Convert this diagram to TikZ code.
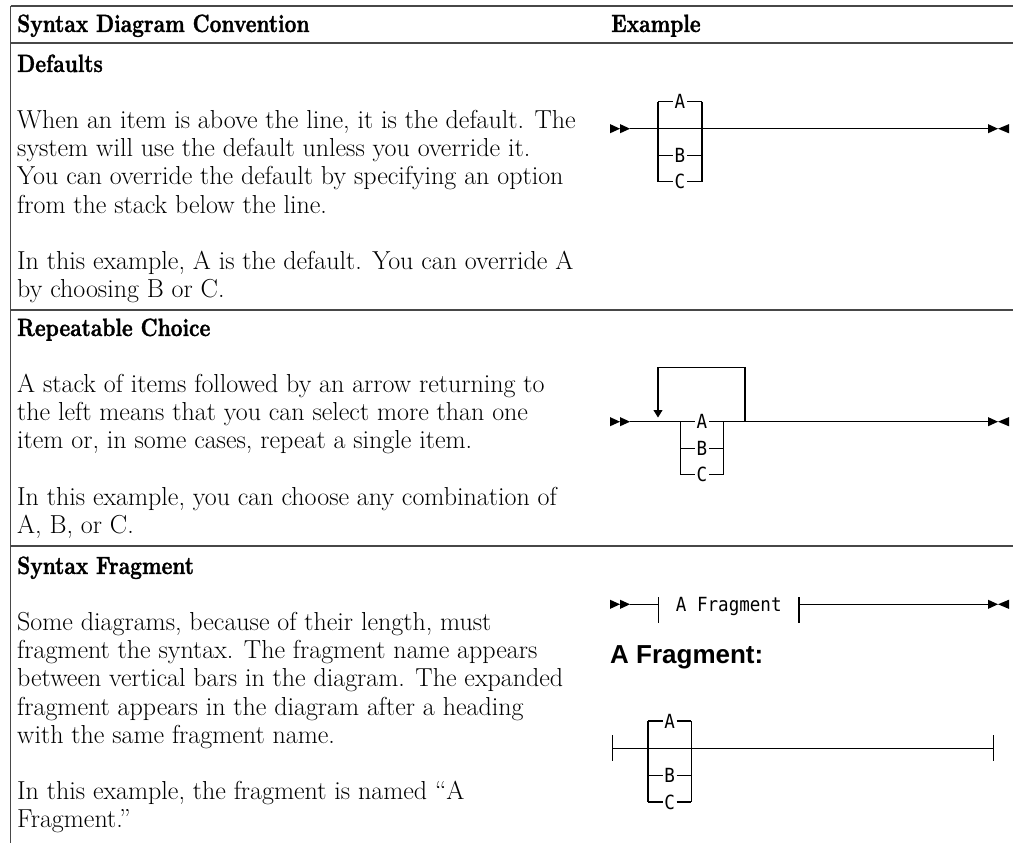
\documentclass[tikz,border=0pt]{standalone}
\usepackage{fontspec}
\usetikzlibrary{arrows.meta}
\newfontfamily\rrfont{DejaVu Sans Mono}[FakeStretch=0.9]
\newfontfamily\hdfont{Liberation Sans}
\newfontfamily\headfont{lmroman10-bold.otf}[FakeStretch=0.82,FakeBold=1.2]
\tikzset{
  pics/dblstart/.style={code={
    \fill (-20,-4.6) -- (-10,0) -- (-20,4.6) -- cycle;
    \fill (-10,-4.6) -- (0,0) -- (-10,4.6) -- cycle;}},
  pics/endpair/.style={code={
    \fill (0,-4.6) -- (10,0) -- (0,4.6) -- cycle;
    \fill (21,-4.6) -- (10,0) -- (21,4.6) -- cycle;}},
}
\begin{document}
\begin{tikzpicture}[x=1pt,y=-1pt,
  tbl/.style={draw=black!72,line width=1.3pt},
  rail/.style={draw=black,line width=1.05pt},
  body/.style={anchor=base west,inner sep=0pt,font=\fontsize{26}{29}\selectfont},
  head/.style={anchor=base west,inner sep=0pt,font=\headfont\fontsize{25}{28}\selectfont},
  lbl/.style={font=\rrfont\fontsize{19.5}{22}\selectfont,inner sep=1.6pt},
]
\useasboundingbox (0,0) rectangle (1013,843);

% ---------- table rules ----------
\draw[tbl] (10.5,6) -- (1013,6);
\draw[tbl] (10.5,43) -- (1013,43);
\draw[tbl] (10.5,310) -- (1013,310);
\draw[tbl] (10.5,546) -- (1013,546);
\draw[tbl] (10.5,6) -- (10.5,843);

% ---------- header ----------
\node[head] (hc) at (17,32) {Syntax Diagram Convention};
\node[head] (he) at (611,32) {Example};

% ---------- row 1 ----------
\node[head] (h1) at (17,72) {Defaults};
\node[body] (p11) at (17,128.4) {When an item is above the line, it is the default. The};
\node[body] (p12) at (17,156.6) {system will use the default unless you override it.};
\node[body] (p13) at (17,184.8) {You can override the default by specifying an option};
\node[body] (p14) at (17,213) {from the stack below the line.};
\node[body] (p15) at (17,269.4) {In this example, A is the default. You can override A};
\node[body] (p16) at (17,297.6) {by choosing B or C.};

% ---------- row 2 ----------
\node[head] (h2) at (17,336) {Repeatable Choice};
\node[body] (p21) at (17,392.4) {A stack of items followed by an arrow returning to};
\node[body] (p22) at (17,420.6) {the left means that you can select more than one};
\node[body] (p23) at (17,448.8) {item or, in some cases, repeat a single item.};
\node[body] (p24) at (17,505.2) {In this example, you can choose any combination of};
\node[body] (p25) at (17,533.4) {A, B, or C.};

% ---------- row 3 ----------
\node[head] (h3) at (17,574) {Syntax Fragment};
\node[body] (p31) at (17,630.4) {Some diagrams, because of their length, must};
\node[body] (p32) at (17,658.6) {fragment the syntax. The fragment name appears};
\node[body] (p33) at (17,686.8) {between vertical bars in the diagram. The expanded};
\node[body] (p34) at (17,715) {fragment appears in the diagram after a heading};
\node[body] (p35) at (17,743.2) {with the same fragment name.};
\node[body] (p36) at (17,799.6) {In this example, the fragment is named “A};
\node[body] (p37) at (17,827.8) {Fragment.”};

% ---------- diagram 1: defaults ----------
\coordinate (d0) at (630,128.7);
\coordinate (dE) at (988,128.7);
\pic at (d0) {dblstart};
\pic at (dE) {endpair};
\draw[rail] (d0) -- (dE);
\coordinate (dLt) at (658,101.7);
\coordinate (dLb) at (658,181.7);
\coordinate (dRt) at (702,101.7);
\coordinate (dRb) at (702,181.7);
\node[lbl] (dA) at (680,101.7) {A};
\node[lbl] (dB) at (680,155.7) {B};
\node[lbl] (dC) at (680,181.7) {C};
\draw[rail] (dLt) -- (dLb);
\draw[rail] (dRt) -- (dRb);
\draw[rail] (dLt) -- (dA) -- (dRt);
\draw[rail] (dLt|-dB) -- (dB) -- (dRt|-dB);
\draw[rail] (dLb) -- (dC) -- (dRb);

% ---------- diagram 2: repeatable choice ----------
\coordinate (r0) at (630,421.7);
\coordinate (rE) at (988,421.7);
\pic at (r0) {dblstart};
\pic at (rE) {endpair};
\coordinate (rLt) at (680.3,421.7);
\coordinate (rLb) at (680.3,474.3);
\coordinate (rRt) at (723.7,421.7);
\coordinate (rRb) at (723.7,474.3);
\node[lbl] (rA) at (702,421.7) {A};
\node[lbl] (rB) at (702,448.3) {B};
\node[lbl] (rC) at (702,474.3) {C};
\draw[rail] (r0) -- (rA) -- (rE);
\draw[rail] (rLt) -- (rLb);
\draw[rail] (rRt) -- (rRb);
\draw[rail] (rLt|-rB) -- (rB) -- (rRt|-rB);
\draw[rail] (rLb) -- (rC) -- (rRb);
\coordinate (rLoopR) at (745,421.7);
\coordinate (rLoopTR) at (745,367.7);
\coordinate (rLoopTL) at (658,367.7);
\coordinate (rTip) at (658,417.5);
\draw[rail,-{Triangle[width=9pt,length=7.5pt]}] (rLoopR) -- (rLoopTR) -- (rLoopTL) -- (rTip);

% ---------- diagram 3: fragment reference ----------
\coordinate (f0) at (630,604.3);
\coordinate (fE) at (988,604.3);
\pic at (f0) {dblstart};
\pic at (fE) {endpair};
\coordinate (fb1) at (658.7,604.3);
\coordinate (fb1t) at (658.7,597.3);
\coordinate (fb1b) at (658.7,623.3);
\coordinate (fb2) at (799,604.3);
\coordinate (fb2t) at (799,597.3);
\coordinate (fb2b) at (799,623.3);
\draw[rail] (f0) -- (fb1);
\draw[rail] (fb1t) -- (fb1b);
\draw[rail] (fb2t) -- (fb2b);
\draw[rail] (fb2) -- (fE);
\node[lbl,anchor=base] (fname) at (728.8,611.5) {A Fragment};

\node[anchor=base west,inner sep=0pt,font=\hdfont\bfseries\fontsize{26}{30}\selectfont] (fhead) at (610,663.5) {A Fragment:};

% ---------- diagram 4: fragment body ----------
\coordinate (g0) at (612.7,748.3);
\coordinate (gE) at (993.3,748.3);
\draw[rail] (g0|-0,735.3) -- (g0|-0,761.3);
\draw[rail] (gE|-0,735.3) -- (gE|-0,761.3);
\coordinate (gLt) at (648,721);
\coordinate (gLb) at (648,802);
\coordinate (gRt) at (691.3,721);
\coordinate (gRb) at (691.3,802);
\node[lbl] (gA) at (669.6,721) {A};
\node[lbl] (gB) at (669.6,775.7) {B};
\node[lbl] (gC) at (669.6,802) {C};
\draw[rail] (g0) -- (gE);
\draw[rail] (gLt) -- (gLb);
\draw[rail] (gRt) -- (gRb);
\draw[rail] (gLt) -- (gA) -- (gRt);
\draw[rail] (gLt|-gB) -- (gB) -- (gRt|-gB);
\draw[rail] (gLb) -- (gC) -- (gRb);
\end{tikzpicture}
\end{document}
